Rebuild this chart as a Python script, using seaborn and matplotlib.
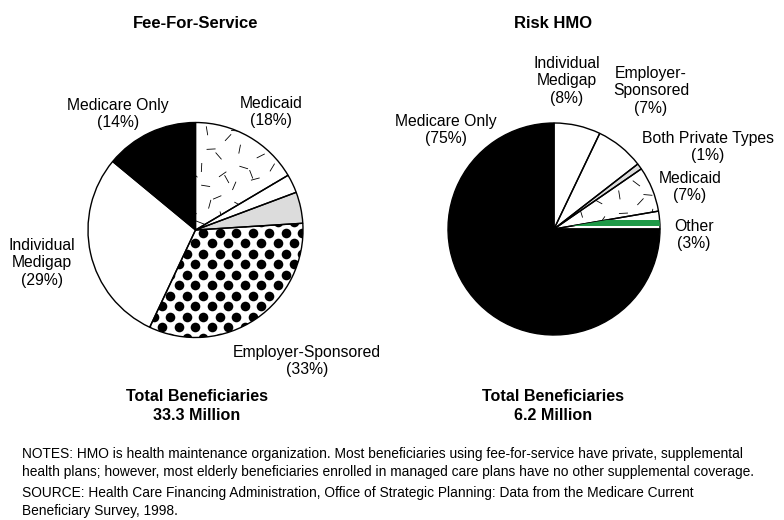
import numpy as np
import pandas as pd
import seaborn as sns
import matplotlib
matplotlib.use("Agg")
import matplotlib.pyplot as plt
from matplotlib.collections import LineCollection
from matplotlib.patches import Rectangle

sns.set_theme(style="white")
plt.rcParams['font.family'] = ['Liberation Sans', 'DejaVu Sans']
plt.rcParams['text.color'] = 'black'

# ---------------- data ----------------
ffs_categories = ["Medicare Only", "Individual Medigap", "Employer-Sponsored",
                  "Both Private Types", "Other", "Medicaid"]
ffs_shares = [14, 29, 33, 4.7, 2.8, 16.5]          # drawn slice sizes (%)
ffs_label_pct = [14, 29, 33, None, None, 18]       # printed percentages

hmo_categories = ["Individual Medigap", "Employer-Sponsored", "Both Private Types",
                  "Medicaid", "Other", "Medicare Only"]
hmo_shares = [7.1, 7.4, 0.9, 6.9, 2.7, 75]
hmo_label_pct = [8, 7, 1, 7, 3, 75]

totals = ["33.3 Million", "6.2 Million"]
panel_titles = ["Fee-For-Service", "Risk HMO"]

ffs = pd.DataFrame({"category": ffs_categories, "share": ffs_shares})
hmo = pd.DataFrame({"category": hmo_categories, "share": hmo_shares})

# ---------------- styles ----------------
fill = {"Medicare Only": "black", "Individual Medigap": "white",
        "Employer-Sponsored": "white", "Both Private Types": "#dcdcdc",
        "Other": "white", "Medicaid": "white"}
W, H = 784, 520
fig = plt.figure(figsize=(W / 100, H / 100), dpi=100)
ax = fig.add_axes([0, 0, 1, 1])


def Y(ypx):
    return H - ypx


LC = (195.5, Y(230)); LR = 107.5
RC = (554, Y(229)); RR = 106

lw = dict(edgecolor="black", linewidth=1.0)
lw_wedges, _ = ax.pie(ffs["share"], colors=[fill[c] for c in ffs["category"]],
                      startangle=90, counterclock=True, center=LC, radius=LR,
                      wedgeprops=dict(linewidth=0), frame=True)
rw_wedges, _ = ax.pie(hmo["share"], colors=[fill[c] for c in hmo["category"]],
                      startangle=90, counterclock=False, center=RC, radius=RR,
                      wedgeprops=dict(linewidth=0), frame=True)


def dashes(wedge, center, r, step=17.0, length=9.0):
    segs = []
    cx, cy = center
    k = 0
    for i, yy in enumerate(np.arange(cy - r, cy + r, step)):
        for j, xx in enumerate(np.arange(cx - r, cx + r, step)):
            k += 1
            jx = ((i * 7 + j * 13) % 10) / 10.0 - 0.5
            jy = ((i * 11 + j * 5) % 10) / 10.0 - 0.5
            ang = np.deg2rad((i * 53 + j * 97 + k * 31) % 180)
            px, py = xx + jx * step * 0.8, yy + jy * step * 0.8
            dx, dy = np.cos(ang) * length / 2, np.sin(ang) * length / 2
            segs.append([(px - dx, py - dy), (px + dx, py + dy)])
    lc = LineCollection(segs, colors="black", linewidths=0.6, zorder=3)
    ax.add_collection(lc)
    lc.set_clip_path(wedge)


def dots(wedge, center, r, dx=16.5, dy=10.5):
    cx, cy = center
    xs, ys = [], []
    for i, yy in enumerate(np.arange(cy - r, cy + r + dy, dy)):
        off = (dx / 2) if i % 2 else 0.0
        for xx in np.arange(cx - r - dx, cx + r + dx, dx):
            xs.append(xx + off); ys.append(yy)
    sc = ax.scatter(xs, ys, s=48, c="black", linewidths=0, zorder=3)
    sc.set_clip_path(wedge)


dashes(lw_wedges[ffs_categories.index("Medicaid")], LC, LR)
dots(lw_wedges[ffs_categories.index("Employer-Sponsored")], LC, LR)
dashes(rw_wedges[hmo_categories.index("Medicaid")], RC, RR)

other_w = rw_wedges[hmo_categories.index("Other")]
band = Rectangle((RC[0], RC[1] + 3.3), RR + 2, 6.0, facecolor="#1f9a48",
                 edgecolor="none", zorder=3)
ax.add_patch(band)
band.set_clip_path(other_w)

# outlines on top
ax.pie(ffs["share"], startangle=90, counterclock=True, center=LC, radius=LR,
       wedgeprops=dict(fill=False, **lw), frame=True)
ax.pie(hmo["share"], startangle=90, counterclock=False, center=RC, radius=RR,
       wedgeprops=dict(fill=False, **lw), frame=True)
ax.set_xlim(0, W); ax.set_ylim(0, H); ax.set_aspect("equal"); ax.set_axis_off()

# ---------------- text ----------------
lab_kw = dict(ha="center", va="center", multialignment="center", fontsize=11.3,
              color="black", linespacing=1.2, zorder=5)

ffs_label_pos = {"Medicare Only": (118, 114), "Medicaid": (271, 112),
                 "Individual Medigap": (42, 263), "Employer-Sponsored": (307, 361)}
ffs_label_text = {"Medicare Only": "Medicare Only", "Medicaid": "Medicaid",
                  "Individual Medigap": "Individual\nMedigap",
                  "Employer-Sponsored": "Employer-Sponsored"}
for cat, pct in zip(ffs_categories, ffs_label_pct):
    if pct is None:
        continue
    x, y = ffs_label_pos[cat]
    ax.text(x, Y(y), f"{ffs_label_text[cat]}\n({pct}%)", **lab_kw)

hmo_label_pos = {"Individual Medigap": (567, 81), "Employer-Sponsored": (651, 91),
                 "Both Private Types": (708, 147), "Medicaid": (690, 187),
                 "Other": (694, 235), "Medicare Only": (446, 130)}
hmo_label_text = {"Individual Medigap": "Individual\nMedigap",
                  "Employer-Sponsored": "Employer-\nSponsored",
                  "Both Private Types": "Both Private Types", "Medicaid": "Medicaid",
                  "Other": "Other", "Medicare Only": "Medicare Only"}
for cat, pct in zip(hmo_categories, hmo_label_pct):
    x, y = hmo_label_pos[cat]
    ax.text(x, Y(y), f"{hmo_label_text[cat]}\n({pct}%)", **lab_kw)

for x, t in zip([196, 553], panel_titles):
    ax.text(x, Y(24), t, ha="center", va="center", fontsize=12,
            fontweight="bold", color="black")
for x, t in zip([197, 553], totals):
    ax.text(x, Y(406), f"Total Beneficiaries\n{t}", ha="center", va="center",
            fontsize=11.6, fontweight="bold", linespacing=1.3, color="black")

notes = ("NOTES: HMO is health maintenance organization. Most beneficiaries using fee-for-service have private, supplemental\n"
         "health plans; however, most elderly beneficiaries enrolled in managed care plans have no other supplemental coverage.")
source = ("SOURCE: Health Care Financing Administration, Office of Strategic Planning: Data from the Medicare Current\n"
          "Beneficiary Survey, 1998.")
ax.text(22, Y(463), notes, ha="left", va="center", fontsize=9.9,
        linespacing=1.32, color="black")
ax.text(22, Y(502), source, ha="left", va="center", fontsize=9.9,
        linespacing=1.32, color="black")

fig.savefig("out.png", dpi=100)
